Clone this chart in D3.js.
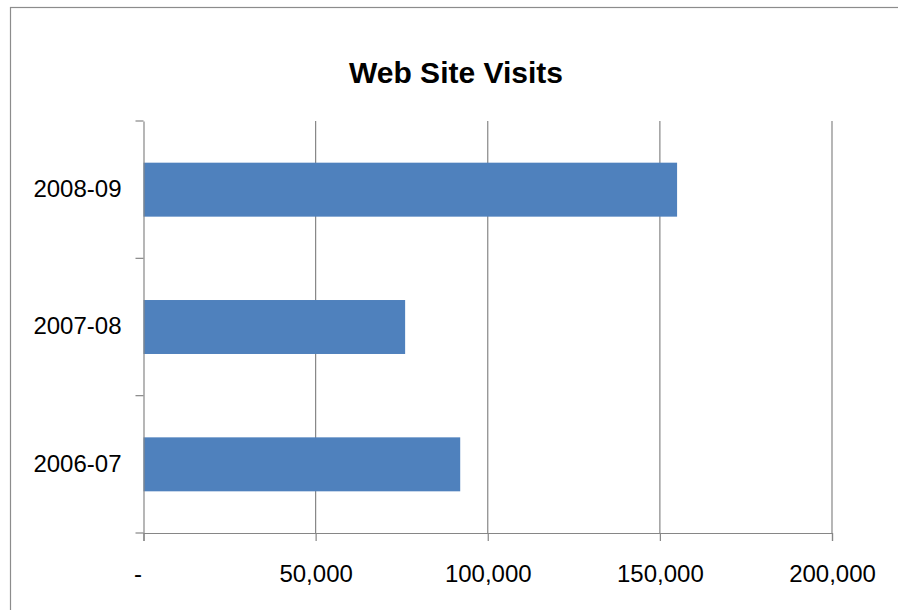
<!DOCTYPE html>
<html>
<head>
<meta charset="utf-8">
<script src="https://cdn.jsdelivr.net/npm/d3@7"></script>
<style>
  html, body { margin: 0; padding: 0; background: #fff; }
  svg { display: block; }
  text { font-family: "Liberation Sans", Arial, sans-serif; fill: #000; }
</style>
</head>
<body>
<svg id="chart" width="898" height="610"></svg>
<script>
const title = "Web Site Visits";
const categories = ["2008-09", "2007-08", "2006-07"];
const visits = [155000, 76000, 92000];
const xTicks = [0, 50000, 100000, 150000, 200000];
const xTickLabels = ["-", "50,000", "100,000", "150,000", "200,000"];

const svg = d3.select("#chart");
const W = 898, H = 610;
const m = { left: 143.5, right: 66, top: 121, bottom: 77 };
const x0 = m.left, x1 = W - m.right, y0 = m.top, y1 = H - m.bottom;
const grey = "#868686";

// outer chart border
svg.append("rect")
  .attr("x", 10.5).attr("y", 7.5)
  .attr("width", 900).attr("height", 620)
  .attr("fill", "none").attr("stroke", "#8c8c8c").attr("stroke-width", 1.2);

svg.append("text")
  .attr("x", 456).attr("y", 83)
  .attr("text-anchor", "middle")
  .style("font-size", "30px").style("font-weight", "bold")
  .text(title);

const x = d3.scaleLinear().domain([0, 200000]).range([x0, x1]);
const y = d3.scaleBand().domain(categories).range([y0, y1]).padding(0);

// gridlines
svg.append("g").selectAll("line")
  .data(xTicks.slice(1))
  .join("line")
  .attr("x1", d => x(d)).attr("x2", d => x(d))
  .attr("y1", y0).attr("y2", y1)
  .attr("stroke", grey).attr("stroke-width", 1.2);

// bars
const barFrac = 0.393;
svg.append("g").selectAll("rect")
  .data(categories)
  .join("rect")
  .attr("x", x(0))
  .attr("y", (c) => y(c) + y.bandwidth() * (1 - barFrac) / 2)
  .attr("width", (c, i) => x(visits[i]) - x(0))
  .attr("height", y.bandwidth() * barFrac)
  .attr("fill", "#4f81bd");

// x axis
const xAxis = d3.axisBottom(x)
  .tickValues(xTicks)
  .tickSize(8)
  .tickPadding(24)
  .tickFormat((d, i) => xTickLabels[i]);
const gx = svg.append("g").attr("transform", `translate(0,${y1})`).call(xAxis);
gx.select(".domain").attr("stroke", grey).attr("stroke-width", 1.2);
gx.selectAll(".tick line").attr("stroke", grey).attr("stroke-width", 1.2);
gx.selectAll(".tick text")
  .style("font-size", "24px").attr("fill", "#000")
  .attr("dx", (d) => d === 0 ? -6 : 0);

// y axis
const yAxis = d3.axisLeft(y).tickSize(0).tickPadding(22);
const gy = svg.append("g").attr("transform", `translate(${x0},0)`).call(yAxis);
gy.select(".domain").attr("stroke", grey).attr("stroke-width", 1.2);
gy.selectAll(".tick text").style("font-size", "24px").attr("fill", "#000").attr("dy", "0.3em");

// y-axis category boundary ticks
const bounds = categories.map(c => y(c)).concat([y1]);
svg.append("g").selectAll("line")
  .data(bounds)
  .join("line")
  .attr("x1", x0 - 8).attr("x2", x0)
  .attr("y1", d => d).attr("y2", d => d)
  .attr("stroke", grey).attr("stroke-width", 1.2);
</script>
</body>
</html>
